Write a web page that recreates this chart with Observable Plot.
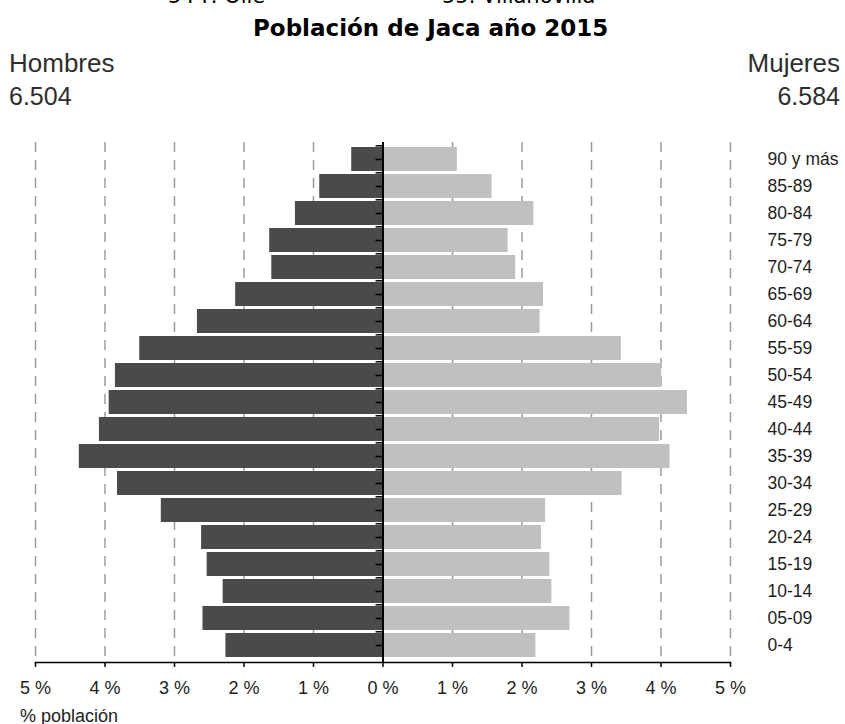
<!DOCTYPE html>
<html><head><meta charset="utf-8">
<script src="https://cdn.jsdelivr.net/npm/d3@7"></script>
<script src="https://cdn.jsdelivr.net/npm/@observablehq/plot@0.6"></script>
<style>
body{margin:0;background:#fff;}
#wrap{position:relative;width:845px;height:724px;overflow:hidden;}
#wrap svg{position:absolute;left:0;top:0;}
.t{position:absolute;white-space:nowrap;line-height:1;color:#222;font-family:"Liberation Sans",Arial,sans-serif;}
.v{font-family:"DejaVu Sans",Verdana,sans-serif;color:#000;}
</style></head><body>
<div id="wrap">
  <div class="t v" style="left:168px;top:-13.8px;font-size:21px;">54 P. Olle</div>
  <div class="t v" style="left:442px;top:-13.8px;font-size:21px;">55. Villanovilla</div>
  <div class="t v" style="left:253px;top:16.5px;font-size:23px;font-weight:bold;">Población de Jaca año 2015</div>
  <div class="t" style="left:9px;top:49.7px;font-size:26px;color:#2e2e2e;">Hombres</div>
  <div class="t" style="left:9px;top:83.8px;font-size:25px;color:#2e2e2e;">6.504</div>
  <div class="t" style="right:5px;top:49.7px;font-size:26px;color:#2e2e2e;">Mujeres</div>
  <div class="t" style="right:5px;top:83.8px;font-size:25px;color:#2e2e2e;">6.584</div>
  <div class="t" style="left:20px;top:706.5px;font-size:18px;">% población</div>
</div>
<script>
const ages = ["90 y más","85-89","80-84","75-79","70-74","65-69","60-64","55-59","50-54","45-49","40-44","35-39","30-34","25-29","20-24","15-19","10-14","05-09","0-4"];
const hombres = [0.45,0.91,1.26,1.63,1.60,2.12,2.67,3.50,3.85,3.94,4.08,4.37,3.82,3.19,2.61,2.53,2.30,2.59,2.26];
const mujeres = [1.07,1.57,2.17,1.80,1.91,2.31,2.26,3.43,4.01,4.38,3.98,4.13,3.44,2.34,2.28,2.40,2.43,2.69,2.20];
const xTicks = [-5,-4,-3,-2,-1,0,1,2,3,4,5];
const gridTicks = [-5,-4,-3,-2,-1,1,2,3,4,5];

const H = 724, MT = 142, MB = 62;
const pIn = 0.11, pOut = 0.05;
const step = (H - MT - MB) / (ages.length - pIn + 2 * pOut);

const men = ages.map((a, i) => ({age: a, v: -hombres[i]}));
const women = ages.map((a, i) => ({age: a, v: mujeres[i]}));

const chart = Plot.plot({
  width: 845, height: H,
  marginTop: MT, marginBottom: MB, marginLeft: 35, marginRight: 115,
  style: {fontFamily: "'Liberation Sans', Arial, sans-serif", background: "transparent", overflow: "visible"},
  x: {domain: [-5, 5], label: null},
  y: {domain: ages, paddingInner: pIn, paddingOuter: pOut, label: null},
  marks: [
    Plot.ruleX(gridTicks, {stroke: "#9a9a9a", strokeWidth: 1.5, strokeDasharray: "10,8"}),
    Plot.barX(men, {x: "v", y: "age", fill: "#4a4a4a"}),
    Plot.barX(women, {x: "v", y: "age", fill: "#c0c0c0"}),
    Plot.ruleX([0], {stroke: "#000", strokeWidth: 2}),
    Plot.ruleY(ages, {y: d => d, x1: -0.1, x2: 0, stroke: "#000", strokeWidth: 1.5}),
    Plot.ruleY(ages, {y: d => d, x1: -0.1, x2: 0, stroke: "#000", strokeWidth: 1.5, dy: -step / 2}),
    Plot.frame({anchor: "bottom", stroke: "#000", strokeWidth: 1.5}),
    Plot.axisX({ticks: xTicks, tickFormat: d => Math.abs(d) + " %", tickSize: 5, tickPadding: 14,
      fontSize: 18, stroke: "#000", fill: "#1e1e1e", strokeWidth: 1.5, label: null}),
    Plot.axisY({anchor: "right", tickSize: 0, tickPadding: 37, textAnchor: "start", fontSize: 17.5, fill: "#1e1e1e", label: null})
  ]
});
const wrap = document.getElementById("wrap");
wrap.insertBefore(chart, wrap.firstChild);
</script>
</body></html>
